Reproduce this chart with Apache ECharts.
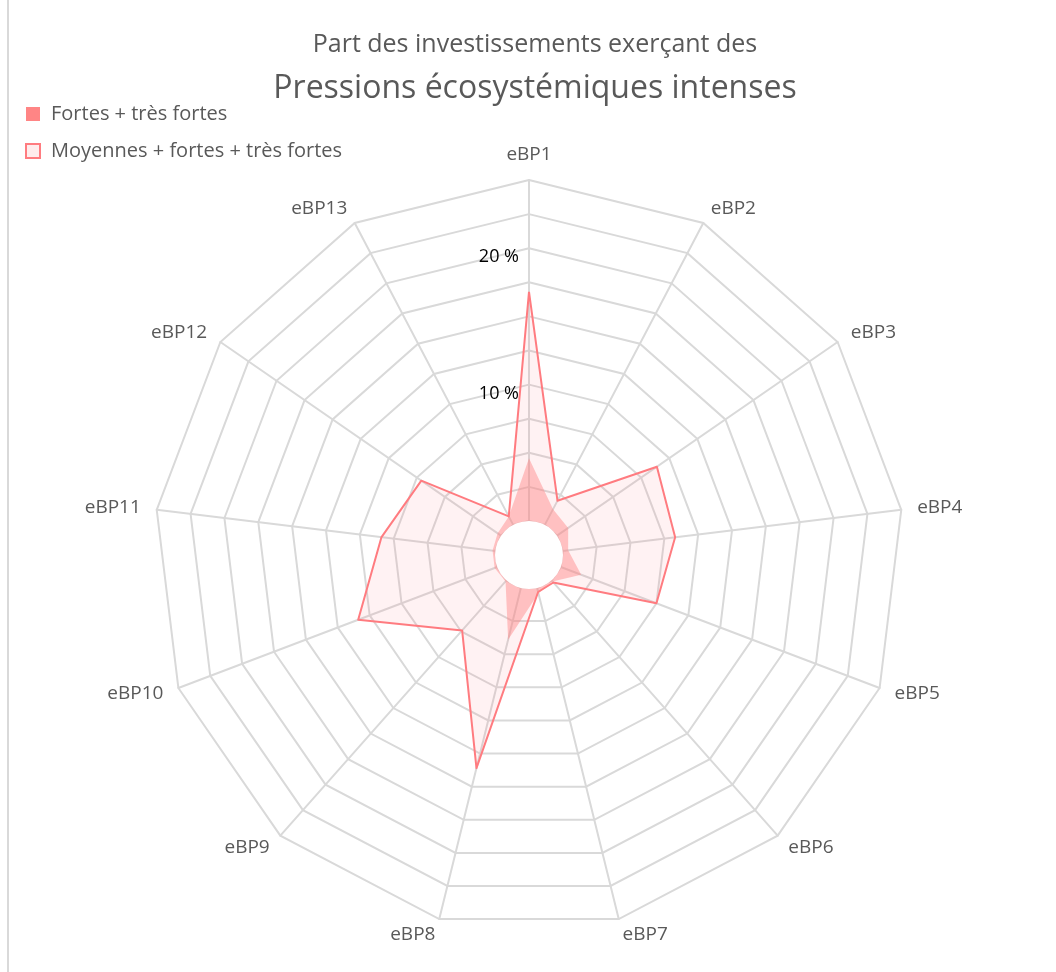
<!DOCTYPE html>
<html>
<head>
<meta charset="utf-8">
<script src="https://cdn.jsdelivr.net/npm/echarts@6/dist/echarts.min.js"></script>
<style>
  html, body { margin: 0; padding: 0; background: #fff; }
  #frame { position: absolute; left: 7px; top: 0; width: 2px; height: 972px; background: #D9D9D9; }
  #chart { position: absolute; left: 0; top: 0; width: 1056px; height: 972px; }
</style>
</head>
<body>
<div id="chart"></div>
<div id="frame"></div>
<script>
// ---- data ----
const categories = ['eBP1','eBP2','eBP3','eBP4','eBP5','eBP6','eBP7','eBP8','eBP9','eBP10','eBP11','eBP12','eBP13'];
const seriesNames = ['Fortes + très fortes', 'Moyennes + fortes + très fortes'];
const strongValues = [4.6, 1.3, 1.0, 0.4, 1.6, 0.1, 0.4, 3.9, 0.1, 0.2, 0.2, 0.3, 0.7];
const mediumValues = [16.8, 2.0, 8.9, 8.3, 7.5, 0.2, 0.3, 13.6, 4.9, 10.9, 8.4, 7.1, 0.7];
const axisMax = 25;
const labelledTicks = [10, 20];

const FONT = '"Open Sans", Lato, sans-serif';
const GREY = '#595959';

// ECharts radar runs counter-clockwise: reorder (first stays on top) so the axes run clockwise
const order = [0].concat(categories.map((_, i) => i).slice(1).reverse());
const cw = arr => order.map(i => arr[i]);

const chart = echarts.init(document.getElementById('chart'), null, { renderer: 'canvas' });

const indicator = cw(categories).map((c, i) => {
  const ind = { name: c, min: 0, max: axisMax };
  if (i === 0) {
    ind.axisLabel = {
      show: true,
      color: '#000',
      fontSize: 18,
      fontFamily: FONT,
      margin: 10,
      verticalAlign: 'top',
      formatter: v => (labelledTicks.indexOf(Math.round(v * 100) / 100) >= 0 ? v + ' %' : '')
    };
  }
  return ind;
});

chart.setOption({
  animation: false,
  title: {
    text: 'Part des investissements exerçant des',
    subtext: 'Pressions écosystémiques intenses',
    left: 535,
    textAlign: 'center',
    top: 30,
    padding: 0,
    itemGap: 10,
    textStyle: { fontFamily: FONT, fontSize: 25, lineHeight: 30, fontWeight: 'normal', color: GREY },
    subtextStyle: { fontFamily: FONT, fontSize: 32, lineHeight: 38, color: GREY }
  },
  legend: {
    orient: 'vertical',
    left: 20,
    top: 98,
    itemWidth: 14,
    itemHeight: 14,
    itemGap: 15,
    icon: 'rect',
    textStyle: { fontFamily: FONT, fontSize: 20, color: GREY, lineHeight: 22, padding: [0, 0, 0, 6] },
    data: [
      { name: seriesNames[0], itemStyle: { color: '#FF8585', borderWidth: 0 } },
      { name: seriesNames[1], itemStyle: { color: '#FFEDED', borderColor: '#FF7C80', borderWidth: 2 } }
    ]
  },
  radar: {
    center: [529, 555],
    radius: [34, 375],
    startAngle: 90,
    shape: 'polygon',
    splitNumber: 10,
    indicator: indicator,
    axisName: { color: GREY, fontSize: 19, fontFamily: FONT },
    nameGap: 16,
    axisLabel: { show: false },
    axisTick: { show: false },
    axisLine: { show: true, lineStyle: { color: '#D9D9D9', width: 2 } },
    splitLine: { show: true, lineStyle: { color: '#D9D9D9', width: 2 } },
    splitArea: { show: false }
  },
  series: [
    {
      type: 'radar',
      name: seriesNames[1],
      symbol: 'none',
      z: 3,
      lineStyle: { color: '#FF7C80', width: 2 },
      itemStyle: { color: '#FF7C80' },
      areaStyle: { color: 'rgba(255,124,128,0.14)' },
      data: [{ name: seriesNames[1], value: cw(mediumValues) }]
    },
    {
      type: 'radar',
      name: seriesNames[0],
      symbol: 'none',
      z: 4,
      lineStyle: { width: 0, opacity: 0 },
      itemStyle: { color: '#FF8585' },
      areaStyle: { color: 'rgba(255,128,128,0.62)' },
      data: [{ name: seriesNames[0], value: cw(strongValues) }]
    },
    {
      type: 'pie',
      name: 'hole',
      silent: true,
      z: 10,
      center: [529, 555],
      radius: [0, 34],
      label: { show: false },
      labelLine: { show: false },
      emphasis: { disabled: true },
      itemStyle: { color: '#FFFFFF', borderWidth: 0 },
      data: [{ name: 'hole', value: 1 }]
    }
  ]
});
</script>
</body>
</html>
